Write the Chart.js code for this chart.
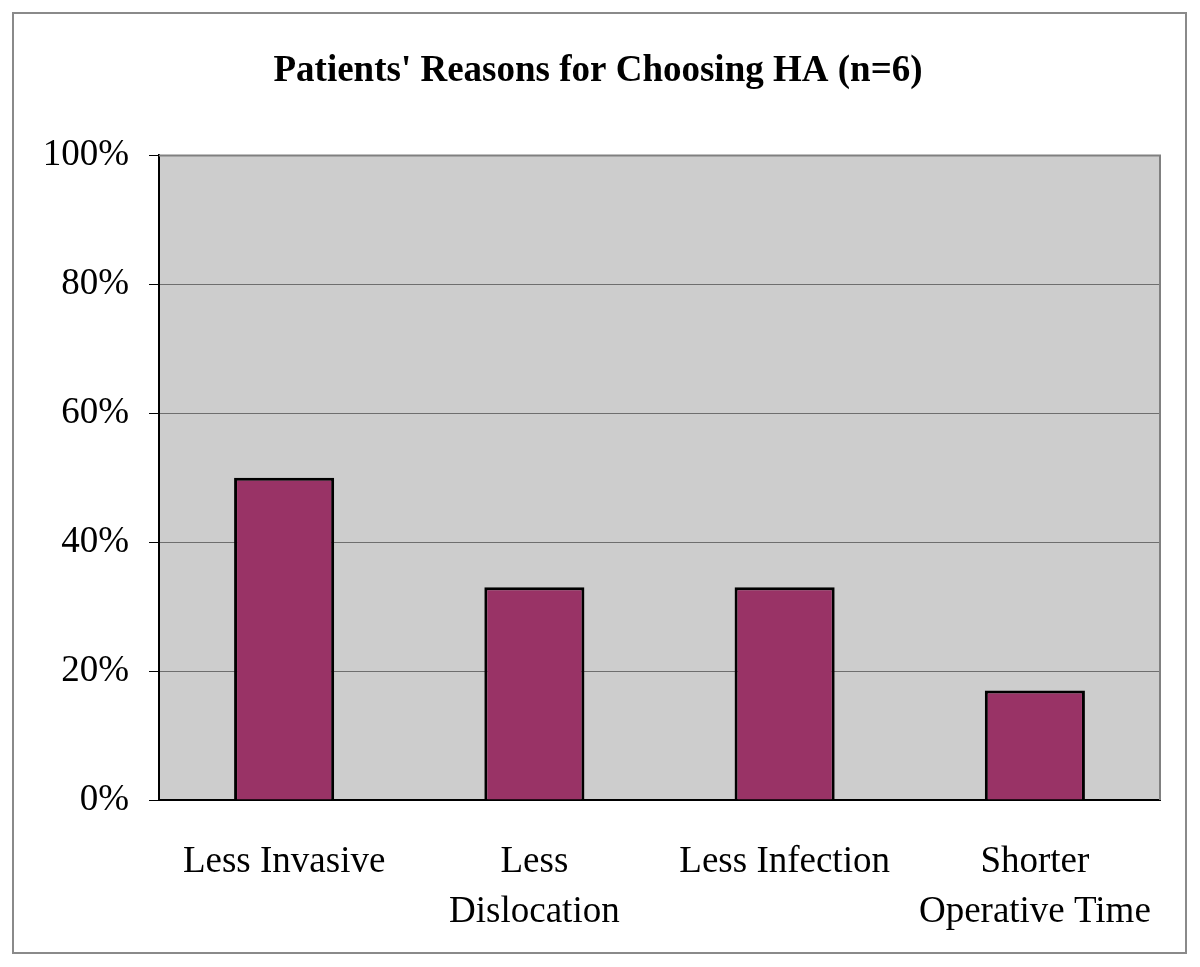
<!DOCTYPE html>
<html>
<head>
<meta charset="utf-8">
<script src="https://cdn.jsdelivr.net/npm/chart.js@4/dist/chart.umd.min.js"></script>
<style>
  body { margin: 0; background: #fff; }
  #wrap { width: 1200px; height: 967px; }
</style>
</head>
<body>
<div id="wrap"><canvas id="chart"></canvas></div>
<script>
const categories = [
  ["Less Invasive"],
  ["Less", "Dislocation"],
  ["Less Infection"],
  ["Shorter", "Operative Time"],
];
const shares = [50, 33, 33, 17];
const yTicks = [0, 20, 40, 60, 80, 100];

const serif = "'Liberation Serif', 'Times New Roman', serif";

// page frame + grey plot background
const frame = {
  id: "frame",
  beforeDraw(chart) {
    const { ctx, chartArea: a } = chart;
    ctx.save();
    ctx.strokeStyle = "#8a8a8a";
    ctx.lineWidth = 2;
    ctx.strokeRect(13, 13, 1173, 940);
    ctx.fillStyle = "#cdcdcd";
    ctx.fillRect(a.left, a.top, a.right - a.left, a.bottom - a.top);
    ctx.restore();
  },
  afterDraw(chart) {
    const { ctx, chartArea: a } = chart;
    ctx.save();
    ctx.strokeStyle = "#808080";
    ctx.lineWidth = 2;
    ctx.beginPath();
    ctx.moveTo(a.left, a.top);
    ctx.lineTo(a.right, a.top);
    ctx.lineTo(a.right, a.bottom);
    ctx.stroke();
    ctx.restore();
  },
};

new Chart(document.getElementById("chart").getContext("2d"), {
  type: "bar",
  data: {
    labels: categories,
    datasets: [
      {
        data: shares,
        backgroundColor: "#993366",
        borderColor: "#000000",
        borderWidth: 3,
        categoryPercentage: 1,
        barPercentage: 0.4,
      },
    ],
  },
  plugins: [frame],
  options: {
    responsive: true,
    maintainAspectRatio: false,
    animation: false,
    layout: { padding: { left: 36, right: 40, top: 0, bottom: 0 } },
    plugins: {
      legend: { display: false },
      tooltip: { enabled: false },
      title: {
        display: true,
        text: "Patients' Reasons for Choosing HA (n=6)",
        color: "#000",
        font: { family: serif, size: 37, weight: "bold" },
        padding: { top: 49, bottom: 62 },
      },
    },
    scales: {
      x: {
        grid: { display: false, drawTicks: false },
        border: { color: "#000", width: 2 },
        ticks: {
          color: "#000",
          padding: 37,
          maxRotation: 0,
          autoSkip: false,
          font: { family: serif, size: 37, lineHeight: 1.35 },
        },
        afterFit(scale) {
          scale.height = 167;
        },
      },
      y: {
        min: 0,
        max: 100,
        afterBuildTicks(scale) {
          scale.ticks = yTicks.map((v) => ({ value: v }));
        },
        grid: { color: "#6e6e6e", lineWidth: 1, tickColor: "#000", tickLength: 10 },
        border: { color: "#000", width: 2 },
        ticks: {
          color: "#000",
          padding: 20,
          font: { family: serif, size: 37 },
          callback: (v) => v + "%",
        },
        afterFit(scale) {
          scale.width = 123;
        },
      },
    },
  },
});
</script>
</body>
</html>
